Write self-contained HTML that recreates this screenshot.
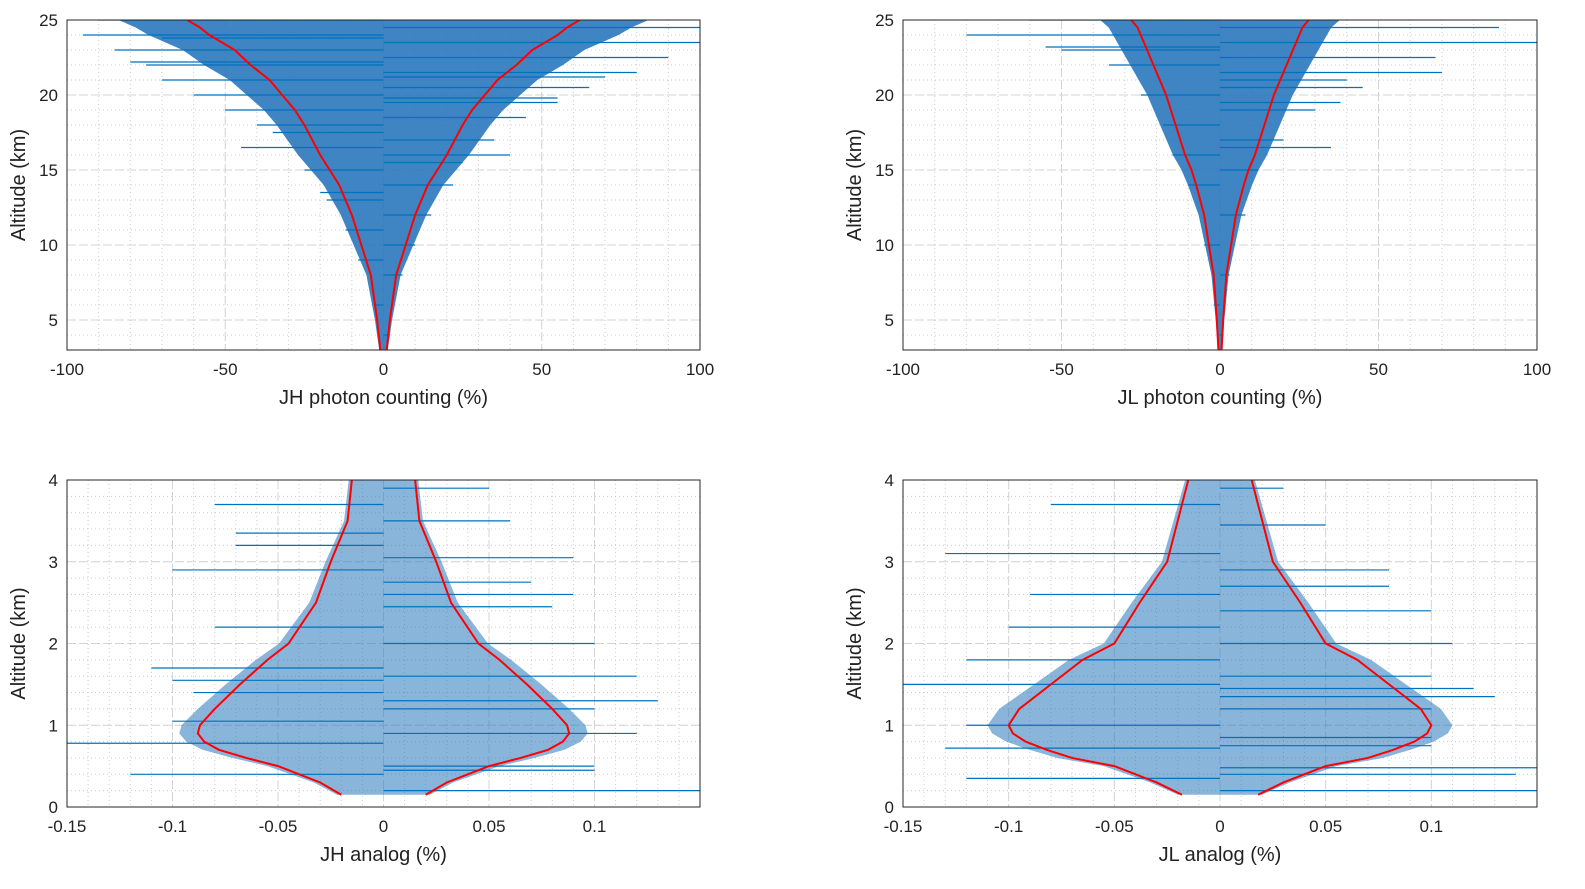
<!DOCTYPE html>
<html><head><meta charset="utf-8"><style>
html,body{margin:0;padding:0;background:#fff;overflow:hidden;font-family:"Liberation Sans",sans-serif}
svg{display:block}
svg text{font-family:"Liberation Sans",sans-serif;fill:#222}
</style></head><body>
<svg id="fig" width="1585" height="889"></svg>
<script>
// Red envelope data (altitude, half-width)
const tlRedAlt=[3,5,8,10,12,14,15,16,18,19,20,21,22,23,24,24.5,25];
const tlRedW=[1,2,4,7,10,14,17,20,25,28,32,36,42,47,55,58,62];
const trRedAlt=[3,5,8,10,12,14,15,16,18,19,20,21,22,23,24,24.5,25];
const trRedW=[0.5,1,2,3.5,5,7.5,9,11,14,15.5,17,19,21,23,25,26,28];
const blRedAlt=[0.15,0.3,0.5,0.6,0.7,0.8,0.9,1.0,1.2,1.5,1.8,2.0,2.5,3.0,3.5,4.0];
const blRedW=[0.02,0.03,0.05,0.065,0.078,0.085,0.088,0.087,0.08,0.068,0.055,0.045,0.032,0.025,0.017,0.015];
const brRedAlt=[0.15,0.3,0.5,0.6,0.7,0.8,0.9,1.0,1.2,1.5,1.8,2.0,2.5,3.0,3.5,4.0];
const brRedW=[0.018,0.03,0.05,0.07,0.082,0.092,0.098,0.1,0.095,0.08,0.065,0.05,0.038,0.025,0.02,0.015];
// Blue spikes (altitude, value)
const tlSpikeAlt=[4,6,8,9,10,11,12,13,14,15,16,16.5,17,18,18.5,19,19.5,20,20.5,21,21.5,22,22.5,23,23.5,24,24.5,25,22.2,21.2,23.8,19.8,17.5,15.5,13.5];
const tlSpikeVal=[2,-3,6,-8,10,-12,15,-18,22,-25,40,-45,35,-40,45,-50,55,-60,65,-70,80,-75,90,-85,100,-95,100,-90,-80,70,-70,55,-35,25,-20];
const trSpikeAlt=[4,6,8,10,12,14,15,16,17,18,19,20,21,22,22.5,23,23.5,24,24.5,25,21.5,20.5,19.5,16.5,23.2];
const trSpikeVal=[1,-2,3,-5,8,-10,12,-15,20,-18,30,-25,40,-35,68,-50,100,-80,88,-60,70,45,38,35,-55];
const blSpikeAlt=[0.2,0.4,0.5,0.78,0.9,1.05,1.3,1.4,1.6,1.7,2.0,2.2,2.6,2.9,3.05,3.2,3.5,3.7,3.9,1.2,0.45,2.45,3.35,1.55,2.75];
const blSpikeVal=[0.15,-0.12,0.1,-0.15,0.12,-0.1,0.13,-0.09,0.12,-0.11,0.1,-0.08,0.09,-0.1,0.09,-0.07,0.06,-0.08,0.05,0.1,0.1,0.08,-0.07,-0.1,0.07];
const brSpikeAlt=[0.2,0.35,0.48,0.72,0.85,1.0,1.2,1.35,1.5,1.6,1.8,2.0,2.2,2.4,2.6,2.9,3.1,3.45,3.7,3.9,0.75,1.45,2.7,0.4];
const brSpikeVal=[0.15,-0.12,0.15,-0.13,0.1,-0.12,0.1,0.13,-0.15,0.1,-0.12,0.11,-0.1,0.1,-0.09,0.08,-0.13,0.05,-0.08,0.03,0.1,0.12,0.08,0.14];
const topXTicks=[-100,-50,0,50,100], topYTicks=[5,10,15,20,25];
const botXTicks=[-0.15,-0.1,-0.05,0,0.05,0.1], botYTicks=[0,1,2,3,4];

const NS='http://www.w3.org/2000/svg', svg=document.getElementById('fig');
function mk(tag,attrs,parent){const e=document.createElementNS(NS,tag);for(const k in attrs)e.setAttribute(k,attrs[k]);(parent||svg).appendChild(e);return e;}

function panel(o){
  const g=mk('g',{});
  
  
  const sx=v=>o.x0+(v-o.xmin)/(o.xmax-o.xmin)*(o.x1-o.x0);
  const sy=v=>o.y1-(v-o.ymin)/(o.ymax-o.ymin)*(o.y1-o.y0);
  for(let v=o.xmin;v<=o.xmax+1e-9;v+=o.xminor){mk('line',{x1:sx(v),x2:sx(v),y1:o.y0,y2:o.y1,stroke:'#ccc','stroke-dasharray':'1,3','stroke-width':1},g);}
  for(let v=Math.ceil(o.ymin/o.yminor)*o.yminor;v<=o.ymax+1e-9;v+=o.yminor){mk('line',{x1:o.x0,x2:o.x1,y1:sy(v),y2:sy(v),stroke:'#ccc','stroke-dasharray':'1,3','stroke-width':1},g);}
  o.xt.forEach(v=>mk('line',{x1:sx(v),x2:sx(v),y1:o.y0,y2:o.y1,stroke:'#d4d4d4','stroke-dasharray':'8,4'},g));
  o.yt.forEach(v=>mk('line',{x1:o.x0,x2:o.x1,y1:sy(v),y2:sy(v),stroke:'#d4d4d4','stroke-dasharray':'8,4'},g));
  const clip=mk('clipPath',{id:'c'+o.name},g);mk('rect',{x:o.x0,y:o.y0,width:o.x1-o.x0,height:o.y1-o.y0},clip);
  const d=mk('g',{'clip-path':'url(#c'+o.name+')'},g);
  let pts=[];o.ra.forEach((a,i)=>pts.push(sx(o.rw[i]*o.core)+','+sy(a)));
  for(let i=o.ra.length-1;i>=0;i--)pts.push(sx(-o.rw[i]*o.core)+','+sy(o.ra[i]));
  const core=mk('polygon',{points:pts.join(' '),fill:'#2a78bd','fill-opacity':o.op},d);
  
  o.sa.forEach((a,i)=>{const l=mk('line',{x1:sx(0),x2:sx(o.sv[i]),y1:sy(a),y2:sy(a),stroke:'#0072bd','stroke-width':1.2},d);
    });
  [1,-1].forEach(s=>{const p=o.ra.map((a,i)=>sx(s*o.rw[i])+','+sy(a)).join(' ');
    const pl=mk('polyline',{points:p,fill:'none',stroke:'#ff0000','stroke-width':2},d);
    });
  mk('rect',{x:o.x0,y:o.y0,width:o.x1-o.x0,height:o.y1-o.y0,fill:'none',stroke:'#262626','stroke-width':1},g);
  o.xt.forEach(v=>{const t=mk('text',{x:sx(v),y:o.y1+25,'text-anchor':'middle','font-size':17},g);t.textContent=String(v);
    });
  o.yt.forEach(v=>{const t=mk('text',{x:o.x0-9,y:sy(v)+6,'text-anchor':'end','font-size':17},g);t.textContent=String(v);
    });
  const xl=mk('text',{x:(o.x0+o.x1)/2,y:o.y1+54,'text-anchor':'middle','font-size':20},g);xl.textContent=o.xlabel;
  
  const cy=(o.y0+o.y1)/2;
  const yl=mk('text',{x:o.x0-42,y:cy,'text-anchor':'middle','font-size':20,transform:'rotate(-90 '+(o.x0-42)+' '+cy+')'},g);yl.textContent='Altitude (km)';
  
}
panel({name:'jh-photon-panel',x0:67,x1:700,y0:20,y1:350,xmin:-100,xmax:100,ymin:3,ymax:25,xminor:10,yminor:1,xt:topXTicks,yt:topYTicks,ra:tlRedAlt,rw:tlRedW,sa:tlSpikeAlt,sv:tlSpikeVal,core:1.35,op:0.9,xlabel:'JH photon counting (%)'});
panel({name:'jl-photon-panel',x0:903,x1:1537,y0:20,y1:350,xmin:-100,xmax:100,ymin:3,ymax:25,xminor:10,yminor:1,xt:topXTicks,yt:topYTicks,ra:trRedAlt,rw:trRedW,sa:trSpikeAlt,sv:trSpikeVal,core:1.35,op:0.9,xlabel:'JL photon counting (%)'});
panel({name:'jh-analog-panel',x0:67,x1:700,y0:480,y1:807,xmin:-0.15,xmax:0.15,ymin:0,ymax:4,xminor:0.01,yminor:0.2,xt:botXTicks,yt:botYTicks,ra:blRedAlt,rw:blRedW,sa:blSpikeAlt,sv:blSpikeVal,core:1.1,op:0.55,xlabel:'JH analog (%)'});
panel({name:'jl-analog-panel',x0:903,x1:1537,y0:480,y1:807,xmin:-0.15,xmax:0.15,ymin:0,ymax:4,xminor:0.01,yminor:0.2,xt:botXTicks,yt:botYTicks,ra:brRedAlt,rw:brRedW,sa:brSpikeAlt,sv:brSpikeVal,core:1.1,op:0.55,xlabel:'JL analog (%)'});
</script></body></html>
